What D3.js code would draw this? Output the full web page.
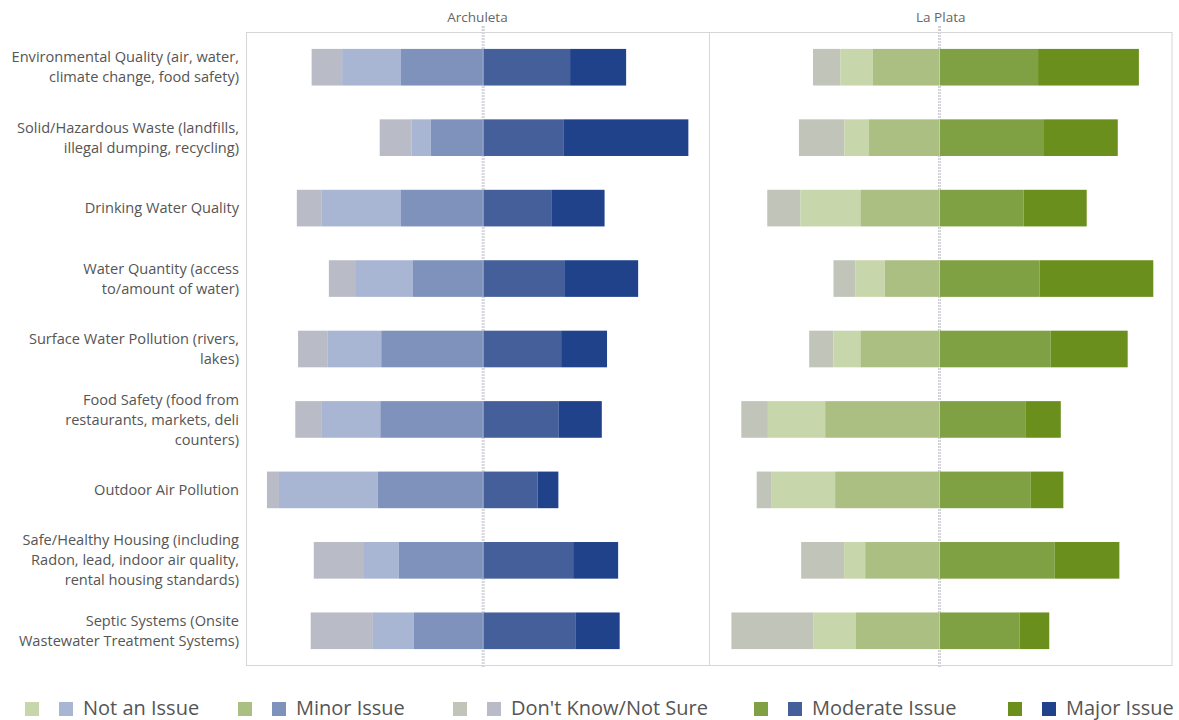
<!DOCTYPE html>
<html>
<head>
<meta charset="utf-8">
<script src="https://cdn.jsdelivr.net/npm/d3@7"></script>
<style>
  body { margin: 0; background: #fff; }
  svg { display: block; }
  text { font-family: "Open Sans", "Noto Sans", sans-serif; }
</style>
</head>
<body>
<svg id="chart" width="1179" height="720"></svg>
<script>
// Environmental health concerns by county, shares of respondents (%)
const categories = [
  "Environmental Quality", "Solid/Hazardous Waste", "Drinking Water Quality",
  "Water Quantity", "Surface Water Pollution", "Food Safety",
  "Outdoor Air Pollution", "Safe/Healthy Housing", "Septic Systems"
];
const categoryLines = [
  ["Environmental Quality (air, water,", "climate change, food safety)"],
  ["Solid/Hazardous Waste (landfills,", "illegal dumping, recycling)"],
  ["Drinking Water Quality"],
  ["Water Quantity (access", "to/amount of water)"],
  ["Surface Water Pollution (rivers,", "lakes)"],
  ["Food Safety (food from", "restaurants, markets, deli", "counters)"],
  ["Outdoor Air Pollution"],
  ["Safe/Healthy Housing (including", "Radon, lead, indoor air quality,", "rental housing standards)"],
  ["Septic Systems (Onsite", "Wastewater Treatment Systems)"]
];
const counties = ["Archuleta", "La Plata"];
const legendLabels = ["Not an Issue", "Minor Issue", "Don't Know/Not Sure", "Moderate Issue", "Major Issue"];

// Archuleta
const archDontKnow = [9.9, 10.4, 8.1, 8.8, 9.5, 8.4, 3.9, 16.3, 20.2];
const archNotIssue = [19.1, 6.2, 25.7, 18.5, 17.5, 19.2, 32.1, 11.3, 13.3];
const archMinor    = [26.7, 17.0, 26.7, 22.8, 33.1, 33.4, 34.2, 27.4, 22.5];
const archModerate = [28.2, 26.0, 22.1, 26.3, 25.3, 24.4, 17.7, 29.2, 29.9];
const archMajor    = [18.2, 40.6, 17.3, 24.0, 14.9, 14.1, 6.7, 14.6, 14.4];

// La Plata
const lpDontKnow = [8.5, 14.2, 10.4, 6.8, 7.6, 8.3, 4.7, 13.4, 25.7];
const lpNotIssue = [10.2, 7.7, 18.7, 9.2, 8.4, 17.9, 19.8, 6.6, 13.2];
const lpMinor    = [20.8, 22.0, 24.7, 17.1, 24.7, 35.7, 32.6, 23.2, 26.1];
const lpModerate = [30.8, 32.4, 26.3, 31.3, 34.7, 27.0, 28.4, 35.9, 25.0];
const lpMajor    = [31.5, 23.3, 19.7, 35.5, 24.1, 10.9, 10.3, 20.3, 9.3];

const archColors = { dk: "#b9bcc6", ni: "#a8b5d3", minor: "#7e92bb", moderate: "#455f9a", major: "#1f428a" };
const lpColors   = { dk: "#c1c4b8", ni: "#c8d6ab", minor: "#abbf83", moderate: "#80a143", major: "#6a8f1d" };

const svg = d3.select("#chart");
const plotTop = 32, plotBottom = 666;
const frameLeft = 246, frameMid = 709, frameRight = 1172.5;

const y = d3.scaleBand()
  .domain(categories)
  .range([plotTop, plotBottom])
  .paddingInner(0.48)
  .paddingOuter(0.24);

const panels = [
  {
    name: counties[0], left: frameLeft, right: frameMid, domain: [-77, 73.3], colors: archColors,
    dk: archDontKnow, ni: archNotIssue, minor: archMinor, moderate: archModerate, major: archMajor
  },
  {
    name: counties[1], left: frameMid, right: frameRight, domain: [-72, 72.8], colors: lpColors,
    dk: lpDontKnow, ni: lpNotIssue, minor: lpMinor, moderate: lpModerate, major: lpMajor
  }
];

// outer frame and pane divider
svg.append("rect")
  .attr("x", frameLeft + 0.5).attr("y", plotTop + 0.5)
  .attr("width", frameRight - frameLeft - 1).attr("height", plotBottom - plotTop - 1)
  .attr("fill", "none").attr("stroke", "#d6d6d6").attr("stroke-width", 1);
svg.append("line")
  .attr("x1", frameMid + 0.5).attr("x2", frameMid + 0.5)
  .attr("y1", plotTop).attr("y2", plotBottom)
  .attr("stroke", "#d6d6d6").attr("stroke-width", 1);

panels.forEach(p => {
  const x = d3.scaleLinear().domain(p.domain).range([p.left, p.right]);
  const g = svg.append("g");

  // county header
  g.append("text")
    .attr("x", (p.left + p.right) / 2).attr("y", 22)
    .attr("text-anchor", "middle")
    .attr("font-size", 13.5).attr("fill", "#666")
    .text(p.name);

  // zero reference line
  g.append("line")
    .attr("x1", x(0)).attr("x2", x(0))
    .attr("y1", plotTop - 6).attr("y2", plotBottom + 2)
    .attr("stroke", "#d0d1d7").attr("stroke-width", 3)
    .attr("stroke-dasharray", "2,1");

  // diverging stacked segments
  const rows = categories.map((c, i) => {
    const minor = p.minor[i], ni = p.ni[i], dk = p.dk[i];
    const mod = p.moderate[i], maj = p.major[i];
    return [
      { cat: c, key: "dk", x0: -(minor + ni + dk), x1: -(minor + ni) },
      { cat: c, key: "ni", x0: -(minor + ni), x1: -minor },
      { cat: c, key: "minor", x0: -minor, x1: 0 },
      { cat: c, key: "moderate", x0: 0, x1: mod },
      { cat: c, key: "major", x0: mod, x1: mod + maj }
    ];
  }).flat();

  g.append("g").selectAll("rect")
    .data(rows)
    .join("rect")
    .attr("x", d => x(d.x0))
    .attr("width", d => x(d.x1) - x(d.x0))
    .attr("y", d => y(d.cat))
    .attr("height", y.bandwidth())
    .attr("fill", d => p.colors[d.key]);

  // faint zero seam over the bars
  g.append("line")
    .attr("x1", x(0)).attr("x2", x(0))
    .attr("y1", plotTop).attr("y2", plotBottom)
    .attr("stroke", "#ffffff").attr("stroke-opacity", 0.35).attr("stroke-width", 1);
});

// category labels
const lineH = 20;
const labels = svg.append("g");
categories.forEach((c, i) => {
  const lines = categoryLines[i];
  const cy = y(c) + y.bandwidth() / 2;
  const t = labels.append("text")
    .attr("text-anchor", "end")
    .attr("font-size", 14.6)
    .attr("fill", "#555");
  lines.forEach((ln, j) => {
    t.append("tspan")
      .attr("x", 239)
      .attr("y", cy + (j - (lines.length - 1) / 2) * lineH)
      .attr("dy", "0.35em")
      .text(ln);
  });
});

// legend: a La Plata swatch and an Archuleta swatch per response level
const legendPairs = [
  [lpColors.ni, archColors.ni],
  [lpColors.minor, archColors.minor],
  [lpColors.dk, archColors.dk],
  [lpColors.moderate, archColors.moderate],
  [lpColors.major, archColors.major]
];
const legendTextX = [83, 296, 511, 812, 1066];
const legend = svg.append("g");
const sqTop = 702, textBase = 714.5;
legendLabels.forEach((lab, i) => {
  const tx = legendTextX[i];
  const item = legend.append("g");
  item.append("rect").attr("x", tx - 58).attr("y", sqTop).attr("width", 14).attr("height", 14)
    .attr("fill", legendPairs[i][0]);
  item.append("rect").attr("x", tx - 24).attr("y", sqTop).attr("width", 14).attr("height", 14)
    .attr("fill", legendPairs[i][1]);
  item.append("text")
    .attr("x", tx).attr("y", textBase)
    .attr("font-size", 20).attr("fill", "#555")
    .text(lab);
});
</script>
</body>
</html>
